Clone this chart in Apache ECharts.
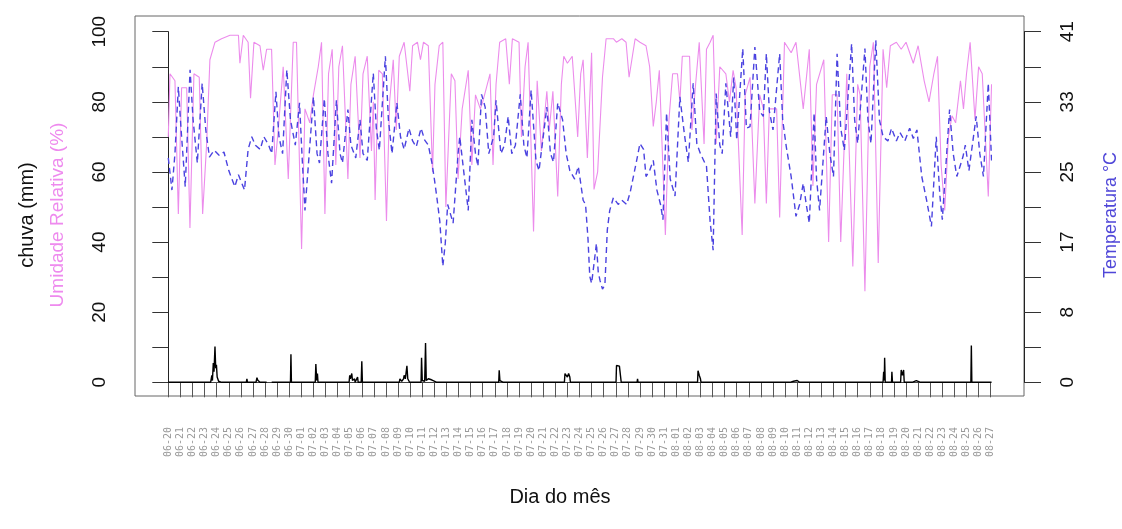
<!DOCTYPE html>
<html>
<head>
<meta charset="utf-8">
<script src="https://cdn.jsdelivr.net/npm/echarts@6/dist/echarts.min.js"></script>
<style>html,body{margin:0;padding:0;background:#fff}#c{width:1122px;height:529px}</style>
</head>
<body>
<div id="c"></div>
<script>
// x-axis tick labels (one per day)
const dias = ['06-20','06-21','06-22','06-23','06-24','06-25','06-26','06-27','06-28','06-29','06-30',
'07-01','07-02','07-03','07-04','07-05','07-06','07-07','07-08','07-09','07-10','07-11','07-12','07-13','07-14','07-15','07-16','07-17','07-18','07-19','07-20','07-21','07-22','07-23','07-24','07-25','07-26','07-27','07-28','07-29','07-30','07-31',
'08-01','08-02','08-03','08-04','08-05','08-06','08-07','08-08','08-09','08-10','08-11','08-12','08-13','08-14','08-15','08-16','08-17','08-18','08-19','08-20','08-21','08-22','08-23','08-24','08-25','08-26','08-27'];
const umidTicks = ['0','20','40','60','80','100'];
const tempTicks = ['0','8','17','25','33','41'];

// [day since 06-20, relative humidity %]
const umidade = [[0,70],[0.14,88],[0.55,86],[0.83,48],[1.1,84],[1.52,84],[1.79,44],[2.12,88],[2.56,87],[2.84,48],[3.17,68],[3.44,92],[3.86,97],[4.4,98],[5.1,99],[5.8,99],[5.92,91],[6.2,99],[6.6,97],[6.8,81],[7.08,97],[7.58,96],[7.85,89],[8.13,95],[8.54,95],[8.82,62],[9.09,72],[9.5,90],[9.92,58],[10.33,97],[10.6,97],[11.02,38],[11.3,78],[11.7,74],[12.0,82],[12.4,90],[12.67,97],[12.95,48],
[13.25,88],[13.55,95],[13.85,62],[14.1,90],[14.4,96],[14.85,58],[15.1,85],[15.45,93],[15.85,64],[16.1,88],[16.45,93],[16.8,66],[16.95,80],[17.1,52],[17.4,89],[17.7,88],[18.04,46],[18.3,80],[18.6,92],[18.85,72],[19.1,93],[19.5,97],[19.97,83],[20.2,96],[20.6,97],[20.85,92],[21.1,97],[21.5,96],[21.85,60],[22.05,85],[22.4,96],[22.7,97],[22.95,50],
[23.4,88],[23.7,86],[23.96,58],[24.3,78],[24.8,89],[25.1,62],[25.4,82],[25.8,78],[26.0,80],[26.6,88],[26.85,62],[27.1,85],[27.4,97],[27.9,98],[28.2,85],[28.45,98],[29.0,97],[29.2,70],[29.5,90],[29.75,97],[30.2,43],[30.5,86],[30.85,66],[31.3,83],[31.5,72],[31.8,83],[32.2,53],[32.5,85],[32.7,93],[33.0,91],[33.4,93],[33.85,70],[34.1,88],[34.3,92],[34.65,64],[35.0,94],[35.2,55],[35.5,60],[35.9,87],[36.2,98],[36.8,98],[37.05,97],[37.5,98],[37.85,97],[38.1,87],[38.6,98],[39.0,97],[39.5,96],[39.8,90],[40.1,73],[40.35,80],[40.6,89],[41.1,42],[41.4,75],[41.7,88],[42.1,88],[42.3,80],[42.5,93],[43.1,93],[43.3,72],[43.6,85],[43.9,97],[44.3,68],[44.5,95],[44.8,97],[45.05,99],[45.3,68],[45.6,90],[46.1,88],[46.4,80],[46.7,89],[46.95,84],[47.45,42],
[47.7,82],[48.1,87],[48.5,51],[48.9,82],[49.2,78],[49.45,51],[49.7,78],[50.3,78],[50.55,47],[50.95,97],[51.5,94],[51.9,97],[52.5,78],[53.0,95],[53.3,56],[53.6,85],[54.2,92],[54.6,40],[54.9,82],[55.3,82],[55.6,40],[56.1,88],[56.6,33],[57.0,85],[57.2,82],[57.6,26],[58.0,90],[58.3,97],[58.7,34],[59.1,95],[59.4,84],[59.7,96],[60.2,97],[60.6,95],[61.0,97],[61.6,91],[62.0,96],[62.5,86],[62.9,80],[63.3,88],[63.6,93],[63.9,62],[64.2,49],[64.5,70],[64.8,76],[65.1,74],[65.5,86],[65.75,78],[66.0,88],[66.3,97],[66.7,75],[67.0,90],[67.3,88],[67.8,53],[68.07,85]];

// [day since 06-20, temperature °C]
const temperatura = [[0,26.5],[0.3,22.7],[0.55,27],[0.83,34.9],[1.05,30],[1.4,23.1],[1.8,36.9],[2.05,31],[2.4,25.9],[2.8,35.3],[3.1,29.8],[3.4,26.6],[3.8,27.4],[4.2,26.8],[4.6,27.2],[5.0,25],[5.5,23.1],[5.8,24.5],[6.3,22.7],[6.6,27.5],[6.9,29],[7.2,28],[7.6,27.5],[7.9,29],[8.3,28],[8.55,27],[8.9,34.3],[9.15,29],[9.45,27],[9.8,36.9],[10.1,31],[10.5,28],[10.85,33],[11.05,27],[11.3,20.3],[11.6,26],[12.0,33.7],[12.3,27],[12.5,25.9],[12.9,33.5],
[13.2,27],[13.5,23.5],[13.9,33.3],[14.2,27],[14.4,25.9],[14.85,32.2],[15.1,28],[15.5,26.5],[15.85,31],[16.1,27],[16.45,26.2],[16.95,36.5],[17.2,30],[17.45,27.4],[17.95,38.5],[18.2,31],[18.5,27],[18.9,33],[19.2,29],[19.5,27.5],[19.9,30],[20.2,28.5],[20.5,27.8],[20.9,30],[21.2,28.6],[21.5,28],[21.8,25.9],[22.0,24],[22.2,21.9],[22.45,19],[22.7,13.7],[22.9,16.4],
[23.1,21],[23.55,18.8],[23.96,27],[24.1,29],[24.5,24],[24.8,20.3],[25.1,31],[25.4,27],[25.6,25.5],[25.9,34],[26.2,32.5],[26.5,27],[26.9,29],[27.1,33.3],[27.5,27],[27.8,28],[28.1,31.4],[28.4,27],[28.7,28],[29.1,34],[29.4,28],[29.65,26.5],[30.0,34.5],[30.4,26.2],[30.65,25],[31.0,29],[31.3,32.5],[31.6,27],[31.85,26],[32.2,33],[32.6,31],[32.9,27],[33.2,25],[33.6,24],[33.9,25.5],[34.3,21.5],[34.5,21],[34.7,17],[34.85,12.5],[35.0,11.7],[35.2,14],[35.4,16.4],[35.55,13],[35.7,12],[35.9,11],[36.1,11.5],[36.3,18],[36.5,20.3],[36.8,21.8],[37.2,21],[37.5,21.5],[37.9,21],[38.2,22.5],[38.4,23.9],[38.7,26],[39.0,28.2],[39.3,27.5],[39.5,24.3],[39.8,25],[40.1,26.2],[40.4,22.7],[40.7,21],[40.9,19.2],[41.2,31.8],[41.5,24],[41.9,22],[42.3,33.7],[42.7,29],[43.0,26],[43.4,35.3],[43.7,28.2],[44.0,27],[44.2,26.4],[44.5,25.5],[44.8,19],[45.05,15.6],[45.3,34.1],[45.6,28],[45.8,27],[46.1,35.3],[46.5,29],[46.75,36],[47.0,28.6],
[47.5,39.4],[47.8,30],[48.1,30.2],[48.5,39.6],[48.9,32],[49.2,31.4],[49.45,38.8],[49.7,32],[50.0,29.8],[50.55,38.8],[50.8,31],[51.1,27.8],[51.5,24.3],[51.9,19.6],[52.2,21],[52.5,23.5],[52.75,21],[53.0,18.8],[53.4,31.8],[53.6,24],[53.85,20.3],[54.4,31.4],[54.7,27],[55.0,24.3],[55.3,38.8],[55.6,30],[55.9,27.4],[56.5,40],[56.75,31],[57.0,28.2],[57.6,39.4],[57.85,31],[58.1,28.2],[58.5,40.4],[58.8,31],[59.1,29],[59.5,28.5],[59.8,30],[60.2,28.5],[60.5,29.5],[60.9,28.5],[61.3,30],[61.6,28.8],[61.9,29.8],[62.3,24.3],[62.7,21.5],[63.1,18.4],[63.5,29],[63.8,22],[64.0,19.2],[64.6,32.2],[64.9,27],[65.2,24.3],[65.7,26.6],[65.9,28],[66.2,25],[66.8,31.4],[67.1,27],[67.4,24.3],[67.8,35.3],[68.07,26.2]];

// [day since 06-20, rain mm]  (null = missing data)
const chuva = [[0,0],[3.5,0],[3.6,2],[3.65,0.5],[3.72,5.5],[3.78,3],[3.86,10.2],[3.92,4],[3.98,5],[4.04,1.5],[4.1,2],[4.16,0.3],[4.3,0.5],[4.4,0],[4.6,0],[4.78,0],[4.83,0.5],[4.88,0],[5.1,0],[6.45,0],[6.5,1],[6.55,0],[6.8,0],[7.25,0],[7.33,1.3],[7.4,0.6],[7.5,0.8],[7.58,0],[7.8,0],[8.13,0],[8.3,null],[8.55,0],
[10.1,0],[10.14,8],[10.18,0],[10.4,0],[12.15,0],[12.2,5.2],[12.27,0.5],[12.33,2.5],[12.38,0],[12.6,0],[14.95,0],[15.0,2],[15.06,1],[15.17,2.5],[15.23,0.5],[15.4,1],[15.45,0],[15.6,0],[15.65,1.5],[15.7,0],[15.95,0],[16.0,6],[16.05,0],[16.3,0],
[19.1,0],[19.15,1],[19.3,0.3],[19.45,1],[19.5,2],[19.6,1],[19.73,4.7],[19.8,1],[19.9,1.5],[19.95,0],[20.2,0],[20.9,0],[20.94,7],[21.0,0.5],[21.13,1],[21.2,0.3],[21.27,11.2],[21.33,0.5],[21.5,1],[21.7,0.8],[21.9,0.5],[21.95,0],[22.2,0],
[27.32,0],[27.36,3.4],[27.42,0.5],[27.48,0],[27.7,0],[32.75,0],[32.8,2.5],[32.9,2.5],[33.0,1.5],[33.1,2.5],[33.2,1.5],[33.25,0],[33.5,0],[37.02,0],[37.06,4.8],[37.15,4.6],[37.3,4.6],[37.4,4.8],[37.45,0],[37.7,0],[38.76,0],[38.8,1],[38.84,0],[39.1,0],
[43.76,0],[43.8,3.3],[43.9,2],[44.0,1],[44.05,0],[44.3,0],[51.4,0],[51.45,0.5],[51.7,0.3],[52.0,0.5],[52.2,0],[52.5,0],[59.1,0],[59.15,3],[59.2,0.5],[59.23,7],[59.28,0],[59.5,0],[59.8,0],[59.83,3],[59.88,0],[60.1,0],[60.55,0],[60.6,3.5],[60.7,2],[60.8,3.5],[60.85,0],[61.1,0],[61.5,0],[61.55,0.5],[61.85,0.5],[61.9,0],[62.2,0],[66.36,0],[66.4,10.5],[66.44,0],[66.7,0],[68.07,0]];

const chart = echarts.init(document.getElementById('c'), null, {renderer:'canvas'});
const FONT = 'Liberation Sans, Arial, sans-serif';
chart.setOption({
  animation: false,
  backgroundColor: '#fff',
  grid: [
    {left: 168.3, top: 31.7, width: 822.4, height: 350.6, show: false},
    {left: 135, top: 16, width: 889, height: 380, show: true, borderColor: '#666', borderWidth: 1, backgroundColor: 'transparent'}
  ],
  xAxis: [
    {type: 'value', gridIndex: 0, min: 0, max: 68, interval: 1, offset: 13.7, position: 'bottom',
     splitLine: {show: false},
     axisLine: {show: true, lineStyle: {color: '#444', width: 1}},
     axisTick: {show: true, length: 15, lineStyle: {color: '#555', width: 1}},
     axisLabel: {show: true, rotate: 90, margin: 31, fontSize: 10, color: '#9a9a9a', fontFamily: 'DejaVu Sans Mono, monospace',
       formatter: v => dias[Math.round(v)] || ''}},
    {type: 'value', gridIndex: 1, show: false, min: 0, max: 1}
  ],
  yAxis: [
    {type: 'value', gridIndex: 0, min: 0, max: 100, interval: 10, position: 'left', offset: 33.3,
     splitLine: {show: false},
     axisLine: {show: true, lineStyle: {color: '#222', width: 1}},
     axisTick: {show: true, length: 16, lineStyle: {color: '#333', width: 1}},
     axisLabel: {rotate: 90, margin: 26, fontSize: 19, color: '#111', fontFamily: FONT,
       formatter: v => (Math.round(v) % 20 === 0 ? umidTicks[Math.round(v) / 20] : '')}},
    {type: 'value', gridIndex: 0, min: 0, max: 41.4, interval: 4.14, position: 'right', offset: 33.3,
     splitLine: {show: false},
     axisLine: {show: true, lineStyle: {color: '#222', width: 1}},
     axisTick: {show: true, length: 17, lineStyle: {color: '#333', width: 1}},
     axisLabel: {rotate: 90, margin: 34, fontSize: 19, color: '#111', fontFamily: FONT,
       formatter: v => { const i = Math.round(v / 4.14); return i % 2 === 0 ? tempTicks[i / 2] : ''; }}},
    {type: 'value', gridIndex: 1, show: false, min: 0, max: 1}
  ],
  series: [
    {name: 'Umidade', type: 'line', xAxisIndex: 0, yAxisIndex: 0, data: umidade, showSymbol: false, clip: false,
     lineStyle: {color: '#ec8cec', width: 1.1}},
    {name: 'Temperatura', type: 'line', xAxisIndex: 0, yAxisIndex: 1, data: temperatura, showSymbol: false, clip: false,
     lineStyle: {color: '#4a42e0', width: 1.4, type: [6, 4]}},
    {name: 'Chuva', type: 'line', xAxisIndex: 0, yAxisIndex: 0, data: chuva, showSymbol: false, clip: false, connectNulls: false,
     lineStyle: {color: '#000', width: 1.4}}
  ],
  graphic: [
    {type: 'text', x: 27, y: 215, rotation: Math.PI / 2, style: {text: 'chuva (mm)', fontSize: 20, fontFamily: FONT, fill: '#111', textAlign: 'center', textVerticalAlign: 'middle'}},
    {type: 'text', x: 58, y: 215, rotation: Math.PI / 2, style: {text: 'Umidade Relativa (%)', fontSize: 19, fontFamily: FONT, fill: '#ee8aee', textAlign: 'center', textVerticalAlign: 'middle'}},
    {type: 'text', x: 1111, y: 215, rotation: Math.PI / 2, style: {text: 'Temperatura °C', fontSize: 18, fontFamily: FONT, fill: '#4f46d8', textAlign: 'center', textVerticalAlign: 'middle'}},
    {type: 'text', x: 560, y: 497, style: {text: 'Dia do mês', fontSize: 20, fontFamily: FONT, fill: '#111', textAlign: 'center', textVerticalAlign: 'middle'}}
  ]
});
</script>
</body>
</html>
